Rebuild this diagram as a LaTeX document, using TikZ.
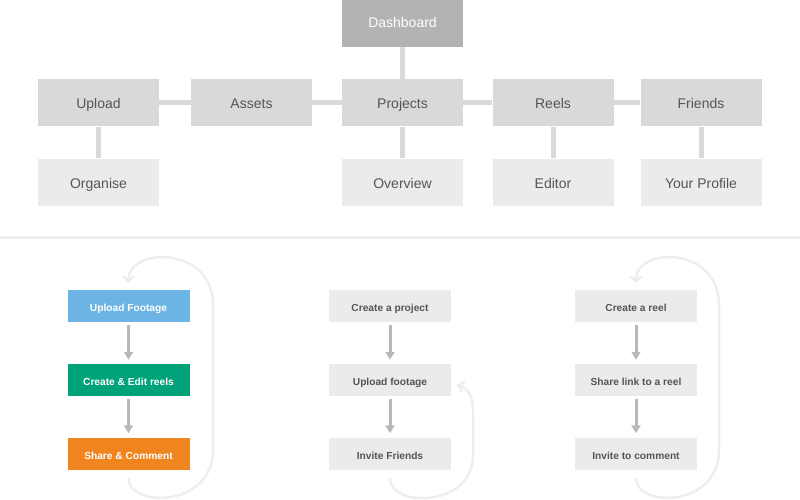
\documentclass[tikz,border=0pt]{standalone}
\usepackage{fontspec}
\setmainfont{Liberation Sans}
\usetikzlibrary{positioning}
\usetikzlibrary{arrows.meta}
\tikzset{
  font={\fontsize{14pt}{14}\selectfont}
}
\definecolor{dashGray}{HTML}{B3B3B3}
\definecolor{mainGray}{HTML}{D9D9D9}
\definecolor{subGray}{HTML}{EBEBEB}
\definecolor{textGray}{HTML}{555555}
\definecolor{loopGray}{HTML}{EEEEEE}
\definecolor{arrowGray}{HTML}{B8B8B8}
\definecolor{footBlue}{HTML}{6CB4E4}
\definecolor{editGreen}{HTML}{00A27A}
\definecolor{shareOrange}{HTML}{F0841F}
\def\mainRow{103}
\def\subRow{182}
\tikzstyle{page}=[rectangle,minimum width=121pt,minimum height=47pt,inner sep=0pt,text height=12pt,text depth=0pt,text=textGray]
\tikzstyle{dashpage}=[page,fill=dashGray,text=white,text height=8pt]
\tikzstyle{mainpage}=[page,fill=mainGray]
\tikzstyle{subpage}=[page,fill=subGray]
\tikzstyle{link}=[line width=5pt,draw=mainGray]
\tikzstyle{stepbox}=[rectangle,minimum width=122pt,minimum height=32pt,inner sep=0pt,text height=11pt,text depth=0pt,fill=subGray,text=textGray,font=\fontsize{10.2pt}{10}\selectfont\bfseries]
\tikzstyle{colorstep}=[stepbox,text=white]
\tikzstyle{flowArrow}=[-{Triangle[width=9pt,length=8pt]},line width=3pt,draw=arrowGray,shorten <=3pt,shorten >=4pt]
\tikzstyle{loopArrow}=[-{Straight Barb[width=11pt,length=5pt]},line width=2.5pt,draw=loopGray]
\newcommand{\siteMap}{
    \node[dashpage] (dashboard) at (402.5, 23.5) {Dashboard};
    \foreach \name/\label/\x in {upload/Upload/98.5, assets/Assets/251.5, projects/Projects/402.5, reels/Reels/553, friends/Friends/701}
        \node[mainpage] (\name) at (\x, \mainRow) {\label};
    
    \foreach \name/\label/\x in {organise/Organise/98.5, overview/Overview/402.5, editor/Editor/553, profile/Your Profile/701}
        \node[subpage] (\name) at (\x, \subRow) {\label};
}
\newcommand{\userFlows}{
    \node[colorstep,fill=footBlue] (footage) at (128.5, 305.5) {Upload Footage};
    \node[colorstep,fill=editGreen] (editReels) at (128.5, 380) {Create \& Edit reels};
    \node[colorstep,fill=shareOrange] (share) at (128.5, 453.5) {Share \& Comment};
    
    \foreach \name/\label/\y in {createProject/Create a project/305.5, uploadFootage/Upload footage/380, inviteFriends/Invite Friends/453.5}
        \node[stepbox] (\name) at (390, \y) {\label};
    
    \foreach \name/\label/\y in {createReel/Create a reel/305.5, shareLink/Share link to a reel/380, inviteComment/Invite to comment/453.5}
        \node[stepbox] (\name) at (636, \y) {\label};
}

\begin{document}
\begin{tikzpicture}[x=1pt,y=-1pt]
    \useasboundingbox (0,0) rectangle (800,500);
    \siteMap
    
    \userFlows
    
    % Links of the site map
    \draw[link] (dashboard) -- (projects);
    \foreach \a/\b in {upload/assets, assets/projects, projects/reels, reels/friends, upload/organise, projects/overview, reels/editor, friends/profile}
        \draw[link] (\a) -- (\b);
    
    % Separator
    \draw[line width=3pt,draw=loopGray] (0,237.5) -- (800,237.5);
    
    % Steps of each flow
    \foreach \a/\b in {footage/editReels, editReels/share, createProject/uploadFootage, uploadFootage/inviteFriends, createReel/shareLink, shareLink/inviteComment}
        \draw[flowArrow] (\a) -- (\b);
    
    % Loops back
    \coordinate (loopA-start) at (128.5, 478);
    \coordinate (loopA-end) at (128.5, 283);
    \draw[loopArrow] (loopA-start) .. controls (128.5, 508) and (213, 508) .. (213, 450) -- (213, 305) .. controls (213, 246) and (128.5, 246) .. (loopA-end);
    \coordinate (loopB-start) at (390, 478);
    \coordinate (loopB-end) at (457, 385);
    \draw[loopArrow] (loopB-start) .. controls (390, 508) and (473, 508) .. (473, 455) -- (473, 412) .. controls (473, 396) and (468, 388) .. (loopB-end);
    \coordinate (loopC-start) at (636, 478);
    \coordinate (loopC-end) at (636, 283);
    \draw[loopArrow] (loopC-start) .. controls (636, 508) and (719, 508) .. (719, 450) -- (719, 305) .. controls (719, 246) and (636, 246) .. (loopC-end);
\end{tikzpicture}
\end{document}
